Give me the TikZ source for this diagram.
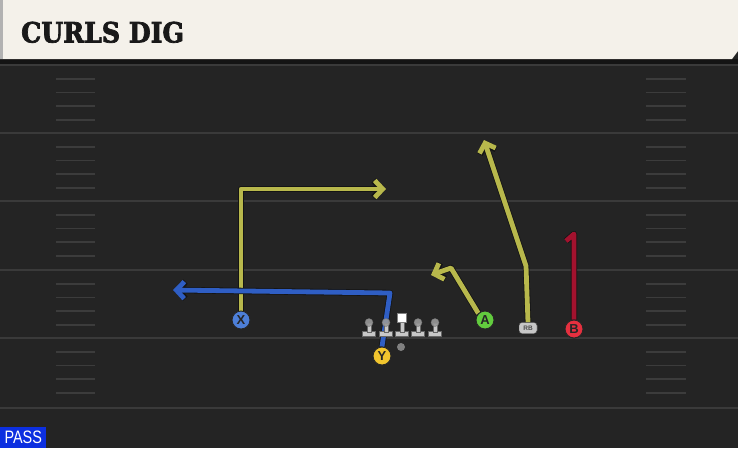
\documentclass[tikz,border=0pt]{standalone}
\usepackage{fontspec}
\setmainfont{Liberation Sans}
\newfontfamily\titlefont[FakeStretch=0.9,FakeBold=2.5]{DejaVu Serif}
\usetikzlibrary{arrows.meta}
\definecolor{fieldbg}{HTML}{242424}
\definecolor{yardline}{HTML}{3A3A3A}
\definecolor{hashc}{HTML}{3C3C3C}
\definecolor{banner}{HTML}{F4F1EA}
\definecolor{olive}{HTML}{B8B84C}
\definecolor{routeblue}{HTML}{2F5EC4}
\definecolor{routered}{HTML}{A3122E}
\definecolor{pxblue}{HTML}{4D7FD8}
\definecolor{pyellow}{HTML}{F1C52E}
\definecolor{pgreen}{HTML}{62CC3E}
\definecolor{pred}{HTML}{E5303F}
\definecolor{passblue}{HTML}{0C2FE0}
\definecolor{olgray}{HTML}{C8C8C8}
\tikzset{
  route/.style={line width=4.8pt, draw=#1, line join=round,
    preaction={draw=black!92, line width=6.4pt, line join=round}},
  tip/.style={-{Straight Barb[length=8pt,width=17pt]}},
  player/.style={circle, draw=black!85, line width=0.9pt, fill=#1, minimum size=18pt,
    inner sep=0pt, font=\bfseries\fontsize{13}{13}\selectfont, text=black!85},
  rbbox/.style={draw=black!80, fill=black!22, rounded corners=3pt, minimum width=18pt, minimum height=11pt,
    inner sep=0pt, font=\bfseries\fontsize{6.5}{6.5}\selectfont, text=black!70},
  yard/.style={draw=yardline, line width=2.4pt},
  hash/.style={draw=hashc, line width=1.8pt},
  lineman/.style={fill=olgray, draw=black!60, line width=0.4pt},
}
\begin{document}
\begin{tikzpicture}[x=1pt,y=-1pt]
\useasboundingbox (0,0) rectangle (738,448);
% field
\fill[fieldbg] (0,0) rectangle (738,448);
\foreach \yy in {65,133,201,270,338,408} \draw[yard] (0,\yy) -- (738,\yy);
\foreach \base in {65,133,201,270,338} {
  \foreach \k in {1,2,3,4} {
    \draw[hash] (56,\base+13.7*\k) -- (95,\base+13.7*\k);
    \draw[hash] (646,\base+13.7*\k) -- (686,\base+13.7*\k);
  }
}
% banner
\fill[black!92] (0,59) rectangle (738,64);
\fill[banner] (0,0) -- (738,0) -- (738,51) -- (732,59) -- (0,59) -- cycle;
\fill[black!30] (0,0) rectangle (3,59);
\node[anchor=base west, inner sep=0pt, text=black!90] (title) at (21,42.5)
  {\titlefont\bfseries\fontsize{28}{28}\selectfont CURLS DIG};
% players
\node[player=pxblue] (X) at (241,320) {X};
\node[player=pyellow] (Y) at (382,356) {Y};
\node[player=pgreen] (A) at (485,320) {A};
\node[player=pred] (B) at (574,329) {B};
\node[rbbox] (RB) at (528,328) {RB};
% route bends
\coordinate (x1) at (241,189);
\coordinate (x2) at (386,189);
\coordinate (y1) at (390,293);
\coordinate (y2) at (173,290);
\coordinate (a1) at (451,268);
\coordinate (a2) at (431,275);
\coordinate (r1) at (526,266);
\coordinate (r2) at (484,140);
\coordinate (b1) at (574,234);
\coordinate (b2) at (566,241);
% routes
\draw[route=olive, tip] (X.north) -- (x1) -- (x2);
\draw[route=routeblue, tip] (Y.north) -- (y1) -- (y2);
\draw[route=olive, tip] (A.north west) -- (a1) -- (a2);
\draw[route=olive, tip] (RB.north) -- (r1) -- (r2);
\draw[route=routered] (B.north) -- (b1) -- (b2);
% redraw players on top
\node[player=pxblue] at (X) {X};
\node[player=pyellow] at (Y) {Y};
\node[player=pgreen] at (A) {A};
\node[player=pred] at (B) {B};
\node[rbbox] at (RB) {RB};
% offensive line
\foreach \xx/\nm in {369/ol1,386/ol2,418/ol4,435/ol5} {
  \fill[lineman] (\xx-6.5,331.5) rectangle (\xx+6.5,336);
  \fill[lineman] (\xx-2,323) rectangle (\xx+2,332);
  \node[circle, fill=black!40, draw=black!55, line width=0.4pt, minimum size=8pt, inner sep=0pt, opacity=0.9] (\nm) at (\xx,322.5) {};
}
\fill[lineman] (402-6.5,331.5) rectangle (402+6.5,336);
\fill[lineman] (402-2,322) rectangle (402+2,332);
\node[rectangle, fill=white, draw=black!50, line width=0.4pt, minimum size=9pt, inner sep=0pt] (C) at (401.5,318) {};
\node[circle, fill=black!50, minimum size=8pt, inner sep=0pt] (QB) at (401,347) {};
% PASS label
\node[fill=passblue, anchor=south west, minimum width=46pt, minimum height=21pt, inner sep=0pt,
  text=white] (pass) at (0,448) {\scalebox{0.8}[1]{\fontsize{18}{18}\selectfont PASS}};
\end{tikzpicture}
\end{document}
